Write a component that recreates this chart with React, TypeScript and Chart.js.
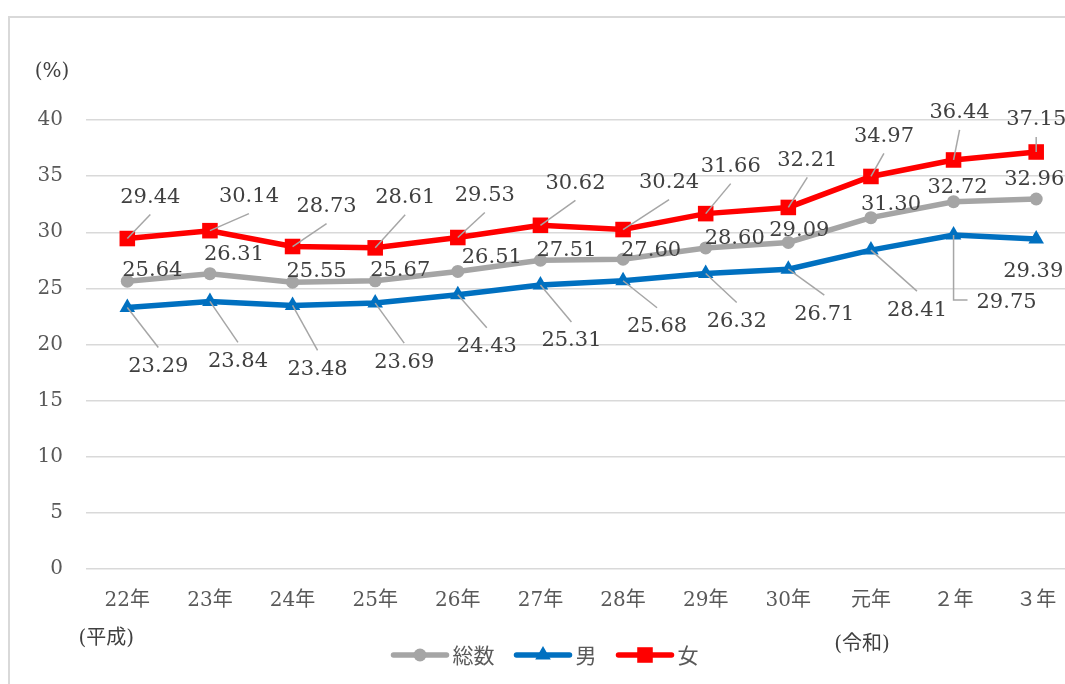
import React, { useEffect, useRef } from 'react';
import { Chart, registerables } from 'chart.js';

Chart.register(...registerables);

// ---- data ----
const categories = ['22年', '23年', '24年', '25年', '26年', '27年', '28年', '29年', '30年', '元年', '２年', '３年'];
const seriesNames = ['総数', '男', '女'];
const totalValues = [25.64, 26.31, 25.55, 25.67, 26.51, 27.51, 27.6, 28.6, 29.09, 31.3, 32.72, 32.96];
const maleValues = [23.29, 23.84, 23.48, 23.69, 24.43, 25.31, 25.68, 26.32, 26.71, 28.41, 29.75, 29.39];
const femaleValues = [29.44, 30.14, 28.73, 28.61, 29.53, 30.62, 30.24, 31.66, 32.21, 34.97, 36.44, 37.15];
const yMin = 0;
const yMax = 40;
const yStep = 5;
const unitLabel = '(%)';
const eraLeft = '(平成)';
const eraRight = '(令和)';

// ---- styling (label placement offsets relative to each point, leader line kinds) ----
const totalLabelOffsets: [number, number][] = [
  [25, -11], [24, -19], [24, -11], [25, -10], [34, -14], [26, -10],
  [28, -9], [29, -9], [11, -12], [20, -13], [4, -14], [-2, -19],
];
const maleLabelOffsets: [number, number][] = [
  [31, 59], [28, 60], [25, 64], [29, 59], [29, 52], [31, 56],
  [34, 46], [31, 48], [36, 45], [46, 60], [53, 67], [-3, 32],
];
const femaleLabelOffsets: [number, number][] = [
  [23, -41], [39, -34], [34, -40], [30, -50], [27, -42], [35, -42],
  [46, -47], [25, -47], [19, -47], [13, -40], [6, -47], [0, -32],
];
const totalLeaders = ['none', 'none', 'none', 'none', 'none', 'none', 'none', 'none', 'none', 'none', 'none', 'none'];
const maleLeaders = ['line', 'line', 'line', 'line', 'line', 'line', 'line', 'line', 'line', 'line', 'elbow', 'none'];
const femaleLeaders = ['line', 'line', 'line', 'line', 'line', 'line', 'line', 'line', 'line', 'line', 'line', 'line'];

const colors = ['#A5A5A5', '#0070C0', '#FF0000'];
const pointStyles = ['circle', 'triangle', 'rect'];
const pointRadii = [6.5, 9, 11];
const labelOffsets = [totalLabelOffsets, maleLabelOffsets, femaleLabelOffsets];
const leaderKinds = [totalLeaders, maleLeaders, femaleLeaders];

const SERIF = '"DejaVu Serif", "Noto Sans CJK JP", serif';
const SANS = '"Noto Sans CJK JP", "Noto Sans", sans-serif';

function drawMarker(ctx: CanvasRenderingContext2D, style: string, x: number, y: number, r: number, color: string) {
  ctx.save();
  ctx.fillStyle = color;
  ctx.beginPath();
  if (style === 'circle') {
    ctx.arc(x, y, r, 0, Math.PI * 2);
  } else if (style === 'triangle') {
    ctx.moveTo(x, y - r);
    ctx.lineTo(x + r * Math.sin((2 * Math.PI) / 3), y - r * Math.cos((2 * Math.PI) / 3));
    ctx.lineTo(x + r * Math.sin((4 * Math.PI) / 3), y - r * Math.cos((4 * Math.PI) / 3));
    ctx.closePath();
  } else {
    const s = Math.SQRT1_2 * r;
    ctx.rect(x - s, y - s, 2 * s, 2 * s);
  }
  ctx.fill();
  ctx.restore();
}

const dataLabelPlugin = {
  id: 'dataLabelPlugin',
  afterDatasetsDraw(chart: any) {
    const ctx: CanvasRenderingContext2D = chart.ctx;
    ctx.save();
    ctx.font = '21px ' + SERIF;
    ctx.textAlign = 'center';
    ctx.textBaseline = 'middle';
    chart.data.datasets.forEach((ds: any, d: number) => {
      const meta = chart.getDatasetMeta(d);
      meta.data.forEach((el: any, i: number) => {
        const x = el.x;
        const y = el.y;
        const [dx, dy] = labelOffsets[d][i];
        const lx = x + dx;
        const ly = y + dy;
        const text = Number(ds.data[i]).toFixed(2);
        const kind = leaderKinds[d][i];
        ctx.strokeStyle = '#A6A6A6';
        ctx.lineWidth = 1.5;
        if (kind === 'line') {
          const ey = ly + (dy < 0 ? 17 : -19);
          ctx.beginPath();
          ctx.moveTo(x, y);
          ctx.lineTo(lx, ey);
          ctx.stroke();
        } else if (kind === 'elbow') {
          const w = ctx.measureText(text).width;
          ctx.beginPath();
          ctx.moveTo(x, y);
          ctx.lineTo(x, ly - 2);
          ctx.lineTo(lx - w / 2 - 9, ly - 2);
          ctx.stroke();
        }
        ctx.fillStyle = '#404040';
        ctx.fillText(text, lx, ly);
      });
    });
    ctx.restore();
  },
};

const extrasPlugin = {
  id: 'extrasPlugin',
  afterDraw(chart: any) {
    const ctx: CanvasRenderingContext2D = chart.ctx;
    const area = chart.chartArea;
    ctx.save();
    ctx.textBaseline = 'middle';
    ctx.textAlign = 'center';
    ctx.fillStyle = '#404040';
    ctx.font = '20px ' + SERIF;
    ctx.fillText(unitLabel, area.left - 34, area.top - 48);
    const xs = chart.scales.x;
    ctx.fillText(eraLeft, xs.getPixelForValue(0) - 21, area.bottom + 70);
    ctx.fillText(eraRight, xs.getPixelForValue(9) - 9, area.bottom + 76);

    // legend
    ctx.font = '21px ' + SANS;
    const lineLen = 57;
    const gap = 4;
    const itemGap = 20;
    const widths = seriesNames.map((n) => ctx.measureText(n).width);
    const total = widths.reduce((a, w) => a + lineLen + gap + w, 0) + itemGap * (seriesNames.length - 1);
    let cx = 545 - total / 2;
    const cy = area.bottom + 86;
    seriesNames.forEach((name, k) => {
      ctx.strokeStyle = colors[k];
      ctx.lineWidth = 5.5;
      ctx.lineCap = 'round';
      ctx.beginPath();
      ctx.moveTo(cx + 2, cy);
      ctx.lineTo(cx + lineLen - 2, cy);
      ctx.stroke();
      drawMarker(ctx, pointStyles[k], cx + lineLen / 2, cy, pointRadii[k], colors[k]);
      ctx.fillStyle = '#595959';
      ctx.textAlign = 'left';
      ctx.fillText(name, cx + lineLen + gap, cy);
      cx += lineLen + gap + widths[k] + itemGap;
    });
    ctx.restore();
  },
};

export default function App() {
  const canvasRef = useRef<HTMLCanvasElement | null>(null);

  useEffect(() => {
    const canvas = canvasRef.current;
    if (!canvas) return;
    const seriesValues = [totalValues, maleValues, femaleValues];
    const chart = new Chart(canvas, {
      type: 'line',
      data: {
        labels: categories,
        datasets: seriesNames.map((name, k) => ({
          label: name,
          data: seriesValues[k],
          borderColor: colors[k],
          backgroundColor: colors[k],
          borderWidth: 5.5,
          pointStyle: pointStyles[k] as any,
          pointRadius: pointRadii[k],
          pointBorderWidth: 0,
          pointBackgroundColor: colors[k],
          tension: 0,
          clip: false as any,
        })),
      },
      options: {
        animation: false,
        responsive: false,
        maintainAspectRatio: false,
        layout: { padding: { left: 0, top: 120, right: 22.5, bottom: 0 } },
        plugins: {
          legend: { display: false },
          tooltip: { enabled: false },
        },
        scales: {
          x: {
            type: 'category',
            offset: true,
            grid: { display: false, drawTicks: false },
            border: { display: false },
            ticks: {
              color: '#595959',
              font: { family: SERIF, size: 20 },
              padding: 20,
              maxRotation: 0,
              autoSkip: false,
            },
            afterFit(scale: any) {
              scale.height = 115;
            },
          },
          y: {
            min: yMin,
            max: yMax,
            grid: { color: '#D9D9D9', lineWidth: 1.5, drawTicks: false },
            border: { display: false },
            ticks: {
              stepSize: yStep,
              color: '#595959',
              font: { family: SERIF, size: 20 },
              padding: 23,
            },
            afterFit(scale: any) {
              scale.width = 86;
            },
          },
        },
      },
      plugins: [dataLabelPlugin, extrasPlugin],
    });
    return () => chart.destroy();
  }, []);

  return (
    <div
      style={{
        position: 'fixed',
        left: 0,
        top: 0,
        width: 1065,
        height: 684,
        overflow: 'hidden',
        background: '#FFFFFF',
      }}
    >
      <canvas ref={canvasRef} width={1100} height={684} style={{ position: 'absolute', left: 0, top: 0 }} />
      <div
        style={{
          position: 'absolute',
          left: 8,
          top: 16,
          width: 1200,
          height: 800,
          border: '2px solid #D9D9D9',
          pointerEvents: 'none',
        }}
      />
    </div>
  );
}
